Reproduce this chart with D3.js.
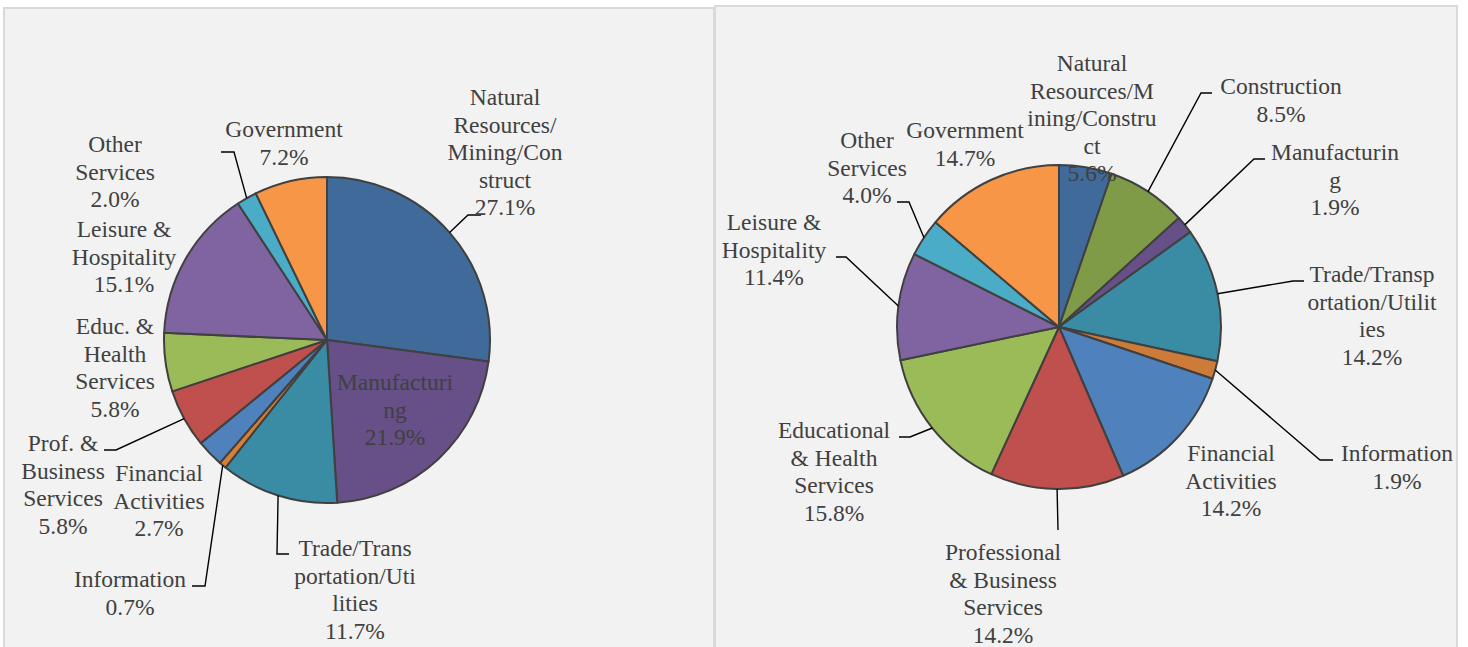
<!DOCTYPE html>
<html>
<head>
<meta charset="utf-8">
<script src="https://cdnjs.cloudflare.com/ajax/libs/d3/7.8.5/d3.min.js"></script>
<style>
  html, body { margin: 0; padding: 0; background: #fff; }
  svg { display: block; }
  text.lbl { font-family: "Liberation Serif", "Times New Roman", serif; font-size: 23.5px; }
</style>
</head>
<body>
<svg id="chart" width="1468" height="647"></svg>
<script>
// left pie: sector shares
const leftSectors = ["Natural Resources/Mining/Construct", "Manufacturing", "Trade/Transportation/Utilities",
  "Information", "Financial Activities", "Prof. & Business Services", "Educ. & Health Services",
  "Leisure & Hospitality", "Other Services", "Government"];
const leftShares = [27.1, 21.9, 11.7, 0.7, 2.7, 5.8, 5.8, 15.1, 2.0, 7.2];
const leftWrapped = [["Natural", "Resources/", "Mining/Con", "struct"], ["Manufacturi", "ng"],
  ["Trade/Trans", "portation/Uti", "lities"], ["Information"], ["Financial", "Activities"],
  ["Prof. &", "Business", "Services"], ["Educ. &", "Health", "Services"], ["Leisure &", "Hospitality"],
  ["Other", "Services"], ["Government"]];

// right pie: sector shares (labels as shown, they add up past 100)
const rightSectors = ["Natural Resources/Mining/Construct", "Construction", "Manufacturing",
  "Trade/Transportation/Utilities", "Information", "Financial Activities", "Professional & Business Services",
  "Educational & Health Services", "Leisure & Hospitality", "Other Services", "Government"];
const rightShares = [5.6, 8.5, 1.9, 14.2, 1.9, 14.2, 14.2, 15.8, 11.4, 4.0, 14.7];
const rightWrapped = [["Natural", "Resources/M", "ining/Constru", "ct"], ["Construction"], ["Manufacturin", "g"],
  ["Trade/Transp", "ortation/Utilit", "ies"], ["Information"], ["Financial", "Activities"],
  ["Professional", "& Business", "Services"], ["Educational", "& Health", "Services"],
  ["Leisure &", "Hospitality"], ["Other", "Services"], ["Government"]];

// fill colours per sector
const sectorColor = {
  "Natural Resources/Mining/Construct": "#3f6a9a",
  "Manufacturing": "#674f88",
  "Trade/Transportation/Utilities": "#3a8ca4",
  "Information": "#d77f34",
  "Financial Activities": "#4f81bd",
  "Prof. & Business Services": "#c0504d",
  "Professional & Business Services": "#c0504d",
  "Educ. & Health Services": "#9bbb59",
  "Educational & Health Services": "#9bbb59",
  "Leisure & Hospitality": "#8064a2",
  "Other Services": "#4aacc6",
  "Government": "#f79646",
  "Construction": "#7f9b48"
};
const rightInfoColor = "#cc7b38";

// label placement (centre x, first line centre y, leader elbow and end)
const leftLayout = {
  cx: 327, cy: 340, r: 163,
  labels: [
    { x: 505, y: 97, leader: [[468, 215], [481, 215]] },
    { x: 395, y: 382 },
    { x: 355, y: 548, leader: [[277, 554], [289, 554]] },
    { x: 130, y: 579, leader: [[205, 586], [192, 586]] },
    { x: 159, y: 473 },
    { x: 63, y: 443, leader: [[116, 450], [104, 450]] },
    { x: 115, y: 326 },
    { x: 124, y: 229 },
    { x: 115, y: 144, leader: [[234, 152], [221, 152]] },
    { x: 284, y: 129 }
  ]
};
const rightLayout = {
  cx: 1059, cy: 327, r: 162,
  labels: [
    { x: 1092, y: 63 },
    { x: 1281, y: 86, leader: [[1201, 93], [1212, 93]] },
    { x: 1335, y: 152, leader: [[1254, 159], [1265, 159]] },
    { x: 1372, y: 274, leader: [[1293, 281], [1304, 281]] },
    { x: 1397, y: 453, leader: [[1320, 460], [1333, 460]] },
    { x: 1231, y: 453 },
    { x: 1003, y: 552, leader: [[1058, 530]] },
    { x: 834, y: 430, leader: [[910, 437], [899, 437]] },
    { x: 774, y: 222, leader: [[846, 257], [836, 257]] },
    { x: 867, y: 140, leader: [[909, 202], [897, 202]] },
    { x: 965, y: 130 }
  ]
};

const svg = d3.select("#chart");
const lineH = 27.5;

// background panels
svg.append("rect").attr("x", 0).attr("y", 0).attr("width", 1468).attr("height", 647).attr("fill", "#ffffff");
svg.append("rect").attr("x", 4).attr("y", 8).attr("width", 710).attr("height", 660)
  .attr("fill", "#f2f2f2").attr("stroke", "#d9d9d9").attr("stroke-width", 2);
svg.append("rect").attr("x", 715).attr("y", 6).attr("width", 742).attr("height", 660)
  .attr("fill", "#f2f2f2").attr("stroke", "#d9d9d9").attr("stroke-width", 2);

function drawPie(sectors, shares, wrapped, layout, colorOf) {
  const data = sectors.map((s, i) => ({ name: s, value: shares[i], lines: wrapped[i].concat([shares[i].toFixed(1) + "%"]), lay: layout.labels[i], i }));
  const pie = d3.pie().sort(null).value(d => d.value);
  const arc = d3.arc().innerRadius(0).outerRadius(layout.r);
  const arcs = pie(data);

  const g = svg.append("g");
  g.append("g").attr("transform", `translate(${layout.cx},${layout.cy})`)
    .selectAll("path").data(arcs).join("path")
    .attr("d", arc)
    .attr("fill", d => colorOf(d.data))
    .attr("stroke", "#404040")
    .attr("stroke-width", 2)
    .attr("stroke-linejoin", "round");

  // leader lines
  const line = d3.line();
  g.selectAll("path.leader").data(arcs.filter(d => d.data.lay.leader)).join("path")
    .attr("class", "leader")
    .attr("d", d => {
      const a = (d.startAngle + d.endAngle) / 2;
      const p0 = [layout.cx + layout.r * Math.sin(a), layout.cy - layout.r * Math.cos(a)];
      return line([p0].concat(d.data.lay.leader));
    })
    .attr("fill", "none")
    .attr("stroke", "#000")
    .attr("stroke-width", 1.4);

  // labels
  const t = g.selectAll("text.lbl").data(arcs).join("text")
    .attr("class", "lbl")
    .attr("text-anchor", "middle")
    .attr("fill", "#404040");
  t.selectAll("tspan").data(d => d.data.lines.map((s, k) => ({ s, k, lay: d.data.lay }))).join("tspan")
    .attr("x", d => d.lay.x)
    .attr("y", d => d.lay.y + 8 + d.k * lineH)
    .text(d => d.s);
}

drawPie(leftSectors, leftShares, leftWrapped, leftLayout, d => sectorColor[d.name]);
drawPie(rightSectors, rightShares, rightWrapped, rightLayout,
  d => d.name === "Information" ? rightInfoColor : sectorColor[d.name]);
</script>
</body>
</html>
